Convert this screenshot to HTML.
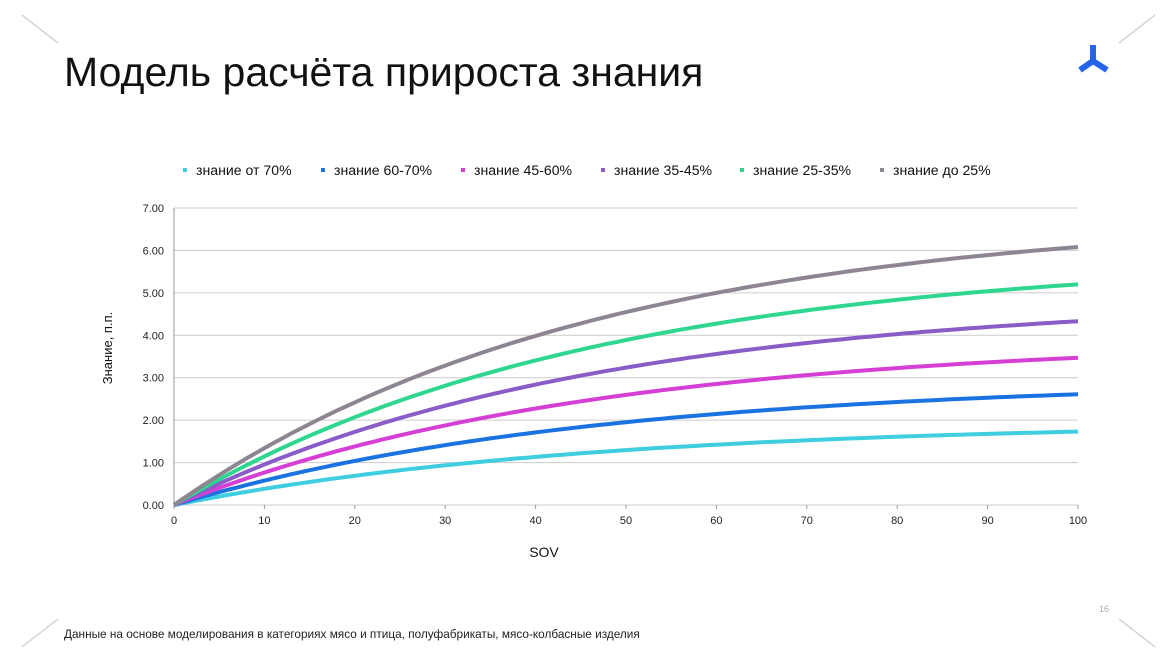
<!DOCTYPE html>
<html><head><meta charset="utf-8"><style>
body{margin:0;width:1176px;height:662px;background:#fff;overflow:hidden;font-family:"Liberation Sans",sans-serif;position:relative}
.t{position:absolute;left:64px;top:49px;font-size:41px;color:#111}
.f{position:absolute;left:64px;top:627px;font-size:11.8px;color:#222}
.n{position:absolute;left:1099px;top:604px;font-size:9px;color:#aaa}
</style></head><body>
<div class="t">Модель расчёта прироста знания</div>
<div class="f">Данные на основе моделирования в категориях мясо и птица, полуфабрикаты, мясо-колбасные изделия</div>
<div class="n">16</div>
<svg id="s" width="1176" height="662" style="position:absolute;left:0;top:0" font-family="Liberation Sans, sans-serif">
<g stroke="#ccc" stroke-width="1.2">
<line x1="22" y1="15" x2="58" y2="43"/><line x1="1119" y1="43" x2="1155" y2="15"/>
<line x1="22" y1="647" x2="58" y2="619"/><line x1="1119" y1="619" x2="1155" y2="647"/>
</g>
<g stroke="#2563eb" stroke-width="6" fill="none">
<line x1="1093" y1="45" x2="1093" y2="62"/><line x1="1093" y1="61" x2="1080" y2="70"/><line x1="1093" y1="61" x2="1107" y2="70"/>
</g>
<text x="544" y="557" font-size="14" text-anchor="middle" fill="#111">SOV</text>
<text transform="translate(112,348) rotate(-90)" font-size="13" text-anchor="middle" fill="#111">Знание, п.п.</text>
</svg>
<script>
var s=document.getElementById('s'),h='';
var x0=174,x1=1078,y0=505,k=297/7;
for(var i=0;i<=7;i++){var y=y0-i*k;h+='<line x1="'+x0+'" x2="'+x1+'" y1="'+y+'" y2="'+y+'" stroke="#ccc" stroke-width="1"/>';
h+='<text x="164" y="'+(y+4)+'" font-size="11" text-anchor="end" fill="#222">'+i.toFixed(2)+'</text>';}
h+='<line x1="'+x0+'" x2="'+x0+'" y1="208" y2="'+(y0+4)+'" stroke="#999"/>';
for(var i=0;i<=10;i++){var x=x0+i*(x1-x0)/10;h+='<line x1="'+x+'" x2="'+x+'" y1="'+y0+'" y2="'+(y0+4)+'" stroke="#999"/><text x="'+x+'" y="524" font-size="11" text-anchor="middle" fill="#222">'+(i*10)+'</text>';}
var cols=['#3fcde0','#1a73e0','#d63fd6','#8a5cc7','#2ed68f','#8e8593'];
var ends=[1.73,2.61,3.47,4.33,5.2,6.08],b=46,den=1-Math.exp(-100/b);
var names=['знание от 70%','знание 60-70%','знание 45-60%','знание 35-45%','знание 25-35%','знание до 25%'];
var lx=[185,323,463,603,742,882];
for(var c=0;c<6;c++){var d='';for(var v=0;v<=100;v+=1){var f=ends[c]*(1-Math.exp(-v/b))/den;d+=(v?'L':'M')+(x0+v*(x1-x0)/100).toFixed(1)+' '+(y0-f*k).toFixed(1);}
h+='<path d="'+d+'" stroke="'+cols[c]+'" stroke-width="4" fill="none"/>';
h+='<rect x="'+(lx[c]-2)+'" y="168" width="4" height="4" fill="'+cols[c]+'"/><text x="'+(lx[c]+11)+'" y="175" font-size="14.1" fill="#111">'+names[c]+'</text>';}
s.insertAdjacentHTML('beforeend',h);
</script>
</body></html>
